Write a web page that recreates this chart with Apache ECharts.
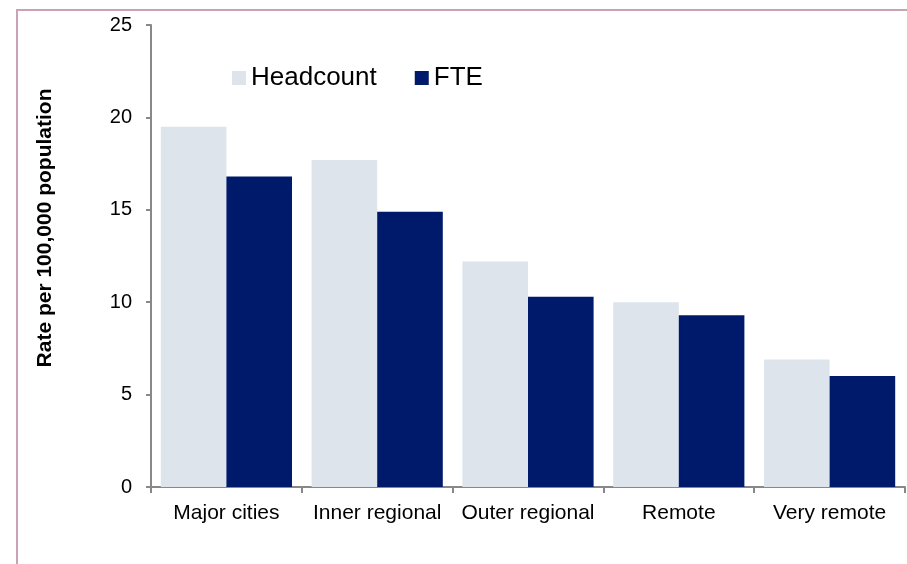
<!DOCTYPE html>
<html>
<head>
<meta charset="utf-8">
<script src="https://cdn.jsdelivr.net/npm/echarts@6/dist/echarts.min.js"></script>
<style>html,body{margin:0;padding:0;background:#fff}#c{width:907px;height:564px}</style>
</head>
<body>
<div id="c"></div>
<script>
var categories = ['Major cities', 'Inner regional', 'Outer regional', 'Remote', 'Very remote'];
var headcount = [19.5, 17.7, 12.2, 10.0, 6.9];
var fte = [16.8, 14.9, 10.3, 9.3, 6.0];
var seriesNames = ['Headcount', 'FTE'];
var yAxisTitle = 'Rate per 100,000 population';

var chart = echarts.init(document.getElementById('c'));
var font = 'Liberation Sans, Arial, sans-serif';
chart.setOption({
  animation: false,
  backgroundColor: '#fff',
  graphic: [
    { type: 'rect', shape: { x: 17, y: 10, width: 1000, height: 1000 }, style: { fill: 'none', stroke: '#c9a3b5', lineWidth: 2 }, z: -1 },
    { type: 'text', x: 45, y: 228, rotation: Math.PI / 2, style: { text: yAxisTitle, font: 'bold 21px ' + font, fill: '#000', textAlign: 'center', textVerticalAlign: 'middle' } }
  ],
  legend: {
    left: 232, top: 65, padding: 0,
    itemWidth: 14, itemHeight: 14, itemGap: 38,
    icon: 'rect',
    data: seriesNames,
    textStyle: { fontSize: 26, fontFamily: font, color: '#000' }
  },
  grid: { left: 151, right: 2, top: 25, bottom: 77 },
  xAxis: {
    type: 'category',
    data: categories,
    axisLine: { lineStyle: { color: '#888', width: 2 } },
    axisTick: { show: true, length: 6, lineStyle: { color: '#888', width: 2 } },
    axisLabel: { interval: 0, fontSize: 21, fontFamily: font, color: '#000', margin: 16 }
  },
  yAxis: {
    type: 'value', min: 0, max: 25, interval: 5,
    splitLine: { show: false },
    axisLine: { show: true, lineStyle: { color: '#888', width: 2 } },
    axisTick: { show: true, length: 5, lineStyle: { color: '#888', width: 2 } },
    axisLabel: { fontSize: 20, fontFamily: font, color: '#000', margin: 19 }
  },
  series: [
    { name: seriesNames[0], type: 'bar', data: headcount, barGap: '0%', barCategoryGap: '13%', itemStyle: { color: '#dde4ec' } },
    { name: seriesNames[1], type: 'bar', data: fte, barGap: '0%', barCategoryGap: '13%', itemStyle: { color: '#001a6b' } }
  ]
});
</script>
</body>
</html>
